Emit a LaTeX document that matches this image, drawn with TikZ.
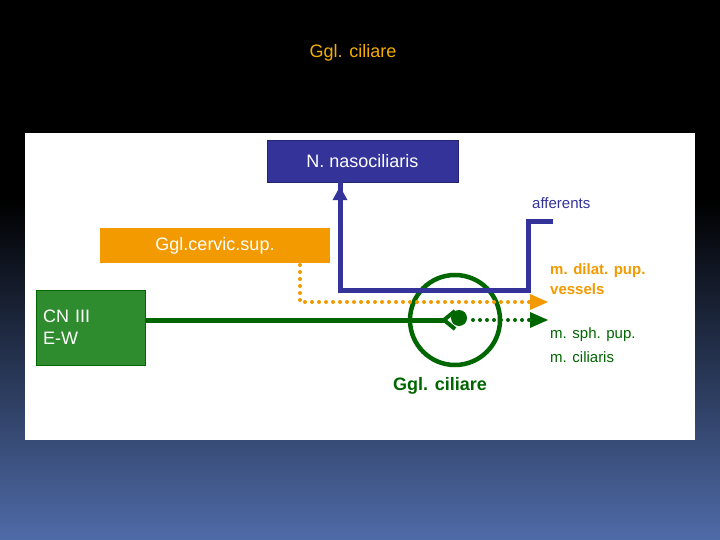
\documentclass[tikz,border=0pt]{standalone}
\usepackage{fontspec}
\setmainfont{Liberation Sans}
\usetikzlibrary{arrows.meta}
\definecolor{navy}{HTML}{33339A}
\definecolor{orng}{HTML}{F29A00}
\definecolor{dgreen}{HTML}{006600}
\definecolor{gbox}{HTML}{2E8B2E}
\definecolor{bgbot}{HTML}{4F6BA8}
\begin{document}
\begin{tikzpicture}[x=1pt,y=-1pt,
  lbl/.style={font=\fontsize{15}{18}\selectfont, anchor=west, align=left, inner sep=0},
  dotline/.style={line width=4pt, dash pattern=on 0pt off 7pt, line cap=round}]
\useasboundingbox (0,0) rectangle (720,540);
\shade[top color=black, bottom color=bgbot, middle color=black] (0,0) rectangle (720,540);
\fill[black] (0,0) rectangle (720,200);
\shade[top color=black,bottom color=bgbot] (0,200) rectangle (720,540);
\node (title) at (353,53) {\fontsize{18}{22}\selectfont\color{orng!80!yellow}Ggl. ciliare};
\fill[white] (25,133) rectangle (695,440);
\node[fill=navy, draw=navy!70!black, minimum width=191pt, minimum height=42pt, text=white, font=\fontsize{18}{22}\selectfont] (nn) at (362.5,161) {N. nasociliaris};
\node[fill=orng, minimum width=230pt, minimum height=35pt, text=white, font=\fontsize{18}{22}\selectfont] (gcs) at (215,245.5) {Ggl.cervic.sup.};
\node[fill=gbox, draw=dgreen, minimum width=109pt, minimum height=75pt, text=white, font=\fontsize{18}{22}\selectfont, align=left, anchor=north west, text width=95pt] (cn) at (36,290) {CN III\\E-W};
\node[text=navy, lbl] (aff) at (532,203) {afferents};
\node[text=orng, lbl, font=\bfseries\fontsize{15}{18}\selectfont] (dil) at (550,279) {m. dilat. pup.\\[2pt]vessels};
\node[text=dgreen, lbl] (sph) at (550,345) {m. sph. pup.\\[6pt]m. ciliaris};
\node[text=dgreen, font=\bfseries\fontsize{18}{22}\selectfont] (gcl) at (440,386) {Ggl. ciliare};
\coordinate (c) at (455,320);
\draw[dgreen, line width=4.5pt] (c) circle (45);
% blue afferents
\coordinate (b1) at (553,222);
\draw[navy, line width=5pt, -{Triangle[length=14pt,width=14pt]}] (b1) -- (528,222) -- (528,290) -- (340,290) -- (nn.south -| 340,0) ++(0,4);
% orange dotted
\coordinate (o1) at (300,265);
\coordinate (o2) at (300,302);
\coordinate (oe) at (548,302);
\draw[orng, dotline] (o1) -- (o2) -- (530,302);
\fill[orng] (oe) -- (530,294) -- (530,310) -- cycle;
% green
\draw[dgreen, line width=5pt] (cn.east |- 0,320) -- (444,320);
\draw[dgreen, line width=4pt] (455,311) -- (444,320) -- (455,329);
\fill[dgreen] (459,318) circle (8);
\draw[dgreen, dotline] (473,320) -- (530,320);
\fill[dgreen] (548,320) -- (530,312) -- (530,328) -- cycle;
\end{tikzpicture}
\end{document}
